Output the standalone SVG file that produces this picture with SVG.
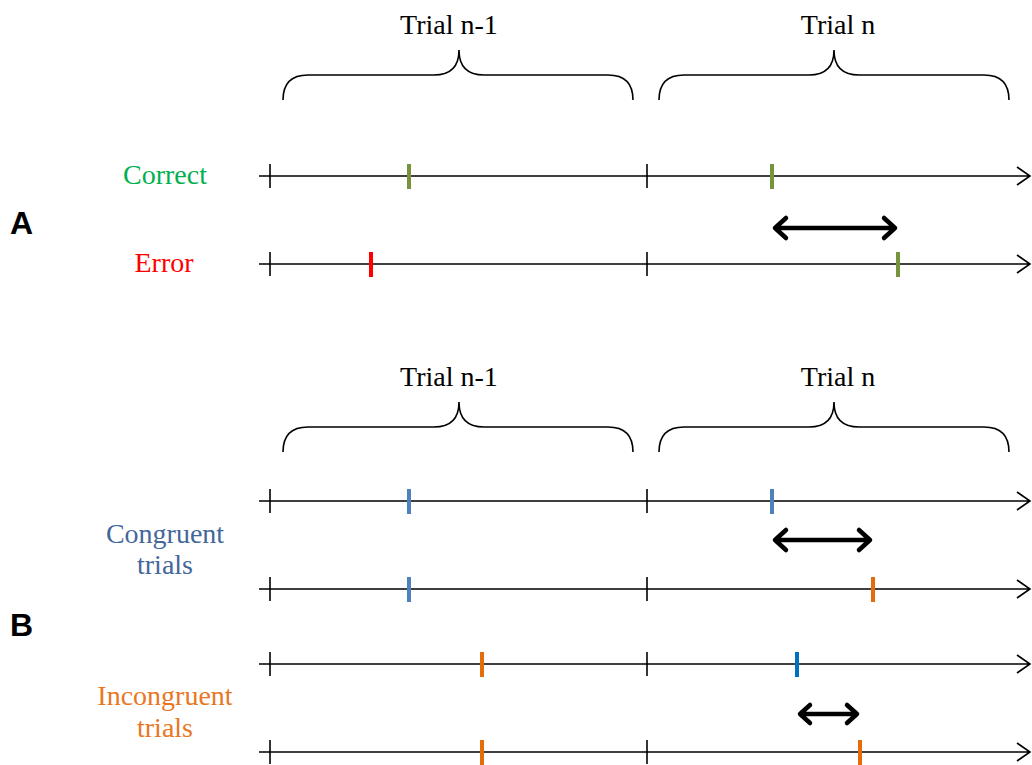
<svg xmlns="http://www.w3.org/2000/svg" width="1032" height="765" viewBox="0 0 1032 765">
<style>
.tl{stroke:#000;stroke-width:1.6;fill:none}
.tick{stroke:#000;stroke-width:1.6}
.mk{stroke-width:4}
.g{stroke:#77933C}.r{stroke:#FF0000}.b{stroke:#4F81BD}.o{stroke:#E46C0A}.db{stroke:#0070C0}
.br{stroke:#000;stroke-width:1.6;fill:none}
.da{stroke:#000;stroke-width:4.5;fill:none;stroke-linecap:round;stroke-linejoin:round}
.lab{font-family:"Liberation Serif","DejaVu Serif",serif;font-size:28px;text-anchor:middle}
.big{font-family:"Liberation Sans",Arial,sans-serif;font-size:32px;font-weight:bold}
</style>
<defs>
<g id="axis">
<path class="tl" d="M259,0 H1029 M1017,-9 L1030,0 L1017,9"/>
<line class="tick" x1="270" y1="-12" x2="270" y2="12"/>
<line class="tick" x1="647" y1="-12" x2="647" y2="12"/>
</g>
<g id="braces">
<path class="br" d="M283,100 Q283,75 308,75 L434,75 Q459,75 459,50 Q459,75 484,75 L608,75 Q633,75 633,100"/>
<path class="br" d="M659,100 Q659,75 684,75 L809,75 Q834,75 834,50 Q834,75 859,75 L984,75 Q1009,75 1009,100"/>
<text class="lab" x="449" y="34" fill="#000">Trial n-1</text>
<text class="lab" x="838" y="34" fill="#000">Trial n</text>
</g>
</defs>
<g id="panelA">
<text class="big" x="10" y="234" fill="#000">A</text>
<use href="#braces"/>
<g id="row-correct">
<text class="lab" x="165" y="184" fill="#00B050">Correct</text>
<use href="#axis" y="176"/>
<line class="mk g" x1="409" y1="164" x2="409" y2="189"/>
<line class="mk g" x1="772" y1="164" x2="772" y2="189"/>
</g>
<g id="row-error">
<text class="lab" x="164" y="272" fill="#FF0000">Error</text>
<use href="#axis" y="264"/>
<line class="mk r" x1="371" y1="252" x2="371" y2="277"/>
<line class="mk g" x1="898" y1="252" x2="898" y2="277"/>
</g>
</g>
<g id="panelB">
<text class="big" x="10" y="636" fill="#000">B</text>
<use href="#braces" y="352"/>
<g id="label-congruent">
<text class="lab" x="165" y="543" fill="#44679B">Congruent</text>
<text class="lab" x="165" y="574" fill="#44679B">trials</text>
</g>
<g id="label-incongruent">
<text class="lab" x="165" y="705" fill="#E87722">Incongruent</text>
<text class="lab" x="165" y="737" fill="#E87722">trials</text>
</g>
<g id="row-b1">
<use href="#axis" y="501"/>
<line class="mk b" x1="409" y1="489" x2="409" y2="514"/>
<line class="mk b" x1="772" y1="489" x2="772" y2="514"/>
</g>
<g id="row-b2">
<use href="#axis" y="589"/>
<line class="mk b" x1="409" y1="577" x2="409" y2="602"/>
<line class="mk o" x1="873" y1="577" x2="873" y2="602"/>
</g>
<g id="row-b3">
<use href="#axis" y="664"/>
<line class="mk o" x1="482" y1="652" x2="482" y2="677"/>
<line class="mk db" x1="797" y1="652" x2="797" y2="677"/>
</g>
<g id="row-b4">
<use href="#axis" y="752"/>
<line class="mk o" x1="482" y1="740" x2="482" y2="765"/>
<line class="mk o" x1="860" y1="740" x2="860" y2="765"/>
</g>
</g>
<g id="connectors">
<path class="da" d="M776,228 H894 M786,218 L775,228 L786,238 M884,218 L895,228 L884,238"/>
<path class="da" d="M776,540 H869 M786,530 L775,540 L786,550 M859,530 L870,540 L859,550"/>
<path class="da" d="M801,714 H856 M810,705 L800,714 L810,723 M847,705 L857,714 L847,723"/>
</g>
</svg>
